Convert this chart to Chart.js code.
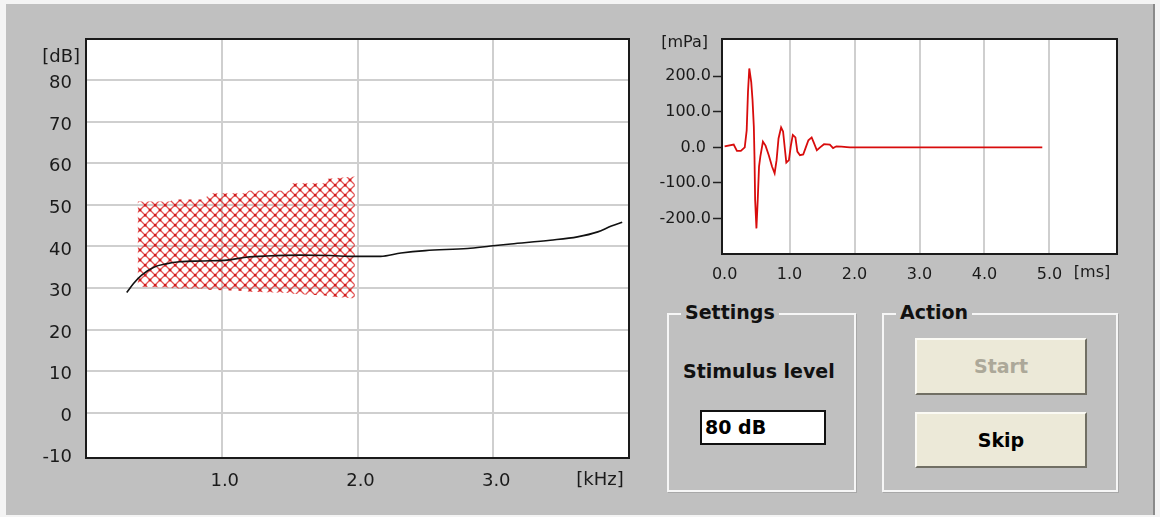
<!DOCTYPE html>
<html>
<head>
<meta charset="utf-8">
<script src="https://cdn.jsdelivr.net/npm/chart.js@4.4.1/dist/chart.umd.min.js"></script>
<style>
  html, body { margin: 0; padding: 0; background: #f4f4f4; width: 1160px; height: 517px; overflow: hidden; }
  #panel { position: absolute; left: 6px; top: 4px; width: 1147px; height: 511px; background: #c0c0c0; border-right: 2px solid #8a8a8a; }
  canvas { position: absolute; top: 0; }
  #cResp { left: 0; }
  #cWave { left: 650px; }
  .grp { position: absolute; top: 313px; height: 175px; border: 2px solid #f6f6f6; box-shadow: 1px 1px 0 #a8a8a8; }
  .grp-title { position: absolute; top: -15px; left: 12px; padding: 0 4px; background: #c0c0c0; font: bold 19px "DejaVu Sans", sans-serif; color: #111; line-height: 24px; }
  #gSet { left: 667px; width: 185px; }
  #gAct { left: 882px; width: 232px; }
  #lblLevel { position: absolute; left: 683px; top: 360px; font: bold 19px "DejaVu Sans", sans-serif; color: #111; }
  #inLevel { position: absolute; left: 700px; top: 410px; width: 119px; height: 31px; background: #fff; border: 2px solid #111; font: bold 19px "DejaVu Sans", sans-serif; line-height: 31px; padding-left: 3px; box-sizing: content-box; }
  .btn { position: absolute; left: 915px; width: 168px; background: #ece9d8; border-top: 2px solid #fbfaf4; border-left: 2px solid #fbfaf4; border-right: 2px solid #716f64; border-bottom: 2px solid #716f64; font: bold 19px "DejaVu Sans", sans-serif; text-align: center; }
  #bStart { top: 338px; height: 53px; line-height: 53px; color: #aca899; }
  #bSkip { top: 412px; height: 52px; line-height: 52px; color: #000; }
</style>
</head>
<body>
<div id="panel"></div>
<canvas id="cResp" width="650" height="517"></canvas>
<canvas id="cWave" width="510" height="300"></canvas>
<div class="grp" id="gSet"><span class="grp-title">Settings</span></div>
<div class="grp" id="gAct"><span class="grp-title">Action</span></div>
<div id="lblLevel">Stimulus level</div>
<div id="inLevel">80 dB</div>
<div class="btn" id="bStart">Start</div>
<div class="btn" id="bSkip">Skip</div>
<script>
// ── Datos: respuesta en frecuencia ────────────────────────────────
const freqTicks = [1, 2, 3];
const dbTicks   = [80, 70, 60, 50, 40, 30, 20, 10, 0, -10];

const curveFreq = [0.30, 0.35, 0.41, 0.50, 0.59, 0.69, 0.86, 1.04, 1.18, 1.33, 1.58, 1.80, 1.97,
                   2.17, 2.32, 2.50, 2.81, 2.98, 3.13, 3.42, 3.62, 3.77, 3.87, 3.95];
const curveDb   = [28.9, 31.1, 33.1, 35.0, 35.8, 36.3, 36.5, 36.7, 37.4, 37.7, 37.9, 37.8, 37.6,
                   37.6, 38.4, 39.0, 39.5, 40.1, 40.6, 41.5, 42.3, 43.5, 44.9, 45.8];

const bandFreq   = [0.38, 0.62, 0.64, 0.88, 0.90, 1.18, 1.20, 1.50, 1.52, 1.76, 1.78, 1.98];
const bandTop    = [50.8, 50.8, 51.3, 51.3, 52.8, 52.8, 53.4, 53.4, 55.2, 55.2, 56.3, 56.8];
const bandBottom = [30.3, 30.1, 29.9, 29.8, 29.6, 29.3, 29.1, 28.8, 28.6, 28.2, 28.0, 27.5];

// ── Datos: forma de onda del estimulo ─────────────────────────────
const timeTicks = [0, 1, 2, 3, 4, 5];
const mpaTicks  = [200, 100, 0, -100, -200];

const waveT = [0, 0.14, 0.19, 0.25, 0.31, 0.34, 0.36, 0.38, 0.41, 0.43, 0.45, 0.46, 0.47, 0.49, 0.51,
               0.53, 0.55, 0.59, 0.63, 0.68, 0.73, 0.77, 0.80, 0.83, 0.87, 0.90, 0.93, 0.95, 0.99, 1.02,
               1.05, 1.09, 1.12, 1.16, 1.21, 1.25, 1.29, 1.34, 1.37, 1.42, 1.47, 1.53, 1.62, 1.67, 1.72,
               1.80, 1.88, 1.93, 4.89];
const waveV = [3, 8, -10, -10, 0, 48, 156, 222, 184, 133, 58, -26, -148, -228, -148,
               -54, -26, 16, 5, -22, -54, -73, -36, 25, 56, 45, -8, -43, -36, 5,
               35, 28, -12, -22, -20, 0, 20, 28, 15, -8, 0, 9, 8, -2, 3,
               2, 1, 0, 0];

const pts = (xs, ys) => xs.map((x, i) => ({ x, y: ys[i] }));

// ── Plugin: fondo blanco, marco y unidades ────────────────────────
const plotFrame = {
  id: 'plotFrame',
  beforeDraw(chart) {
    const a = chart.chartArea, g = chart.ctx;
    g.save();
    g.fillStyle = '#fff';
    g.fillRect(a.left, a.top, a.right - a.left, a.bottom - a.top);
    g.restore();
  },
  afterDraw(chart, args, opts) {
    const a = chart.chartArea, g = chart.ctx;
    g.save();
    g.strokeStyle = '#1a1a1a';
    g.lineWidth = 2;
    g.strokeRect(a.left, a.top, a.right - a.left, a.bottom - a.top);
    g.fillStyle = '#1a1a1a';
    g.font = opts.font;
    g.textBaseline = 'middle';
    (opts.units || []).forEach(u => {
      g.textAlign = u.align;
      const x = u.edge === 'left' ? a.left + u.dx : a.right + u.dx;
      const y = u.side === 'top' ? a.top + u.dy : a.bottom + u.dy;
      g.fillText(u.text, x, y);
    });
    g.restore();
  },
};

// ── Trama cruzada roja ────────────────────────────────────────────
function makeHatch() {
  const c = document.createElement('canvas');
  c.width = 10; c.height = 10;
  const g = c.getContext('2d');
  g.strokeStyle = 'rgba(224,56,56,0.85)';
  g.lineWidth = 1.3;
  g.beginPath();
  g.moveTo(-1, -1); g.lineTo(11, 11);
  g.moveTo(11, -1); g.lineTo(-1, 11);
  g.stroke();
  g.fillStyle = '#cf1c1c';
  g.fillRect(4, 4, 2.5, 2.5);
  g.fillRect(0, 0, 1.3, 1.3); g.fillRect(8.7, 0, 1.3, 1.3); g.fillRect(0, 8.7, 1.3, 1.3); g.fillRect(8.7, 8.7, 1.3, 1.3);
  return g.createPattern(c, 'repeat');
}

const tickColor = '#1a1a1a';
const gridColor = '#cfcfcf';

// ── Grafico izquierdo: nivel vs frecuencia ────────────────────────
new Chart(document.getElementById('cResp'), {
  type: 'line',
  data: {
    datasets: [
      { data: pts(curveFreq, curveDb), borderColor: '#111', borderWidth: 1.6, pointRadius: 0,
        cubicInterpolationMode: 'monotone', fill: false },
      { data: pts(bandFreq, bandTop), borderWidth: 0, borderColor: 'rgba(0,0,0,0)', pointRadius: 0,
        backgroundColor: makeHatch(), fill: '+1' },
      { data: pts(bandFreq, bandBottom), borderWidth: 0, borderColor: 'rgba(0,0,0,0)', pointRadius: 0, fill: false },
    ],
  },
  options: {
    responsive: false, animation: false, events: [],
    layout: { padding: { left: 0, top: 39, right: 21, bottom: 0 } },
    plugins: {
      legend: { display: false }, tooltip: { enabled: false },
      plotFrame: {
        font: '18px "DejaVu Sans"',
        units: [
          { text: '[dB]',  edge: 'left',  side: 'top',    dx: -6,  dy: 18, align: 'right' },
          { text: '[kHz]', edge: 'right', side: 'bottom', dx: -29, dy: 22, align: 'center' },
        ],
      },
    },
    scales: {
      x: {
        type: 'linear', min: 0, max: 4.0,
        afterBuildTicks: s => { s.ticks = freqTicks.map(v => ({ value: v })); },
        afterFit: s => { s.height = 59; },
        border: { display: false },
        grid: { color: gridColor, lineWidth: 2, drawTicks: false },
        ticks: { color: tickColor, font: { family: 'DejaVu Sans', size: 18 }, padding: 13, labelOffset: 3,
                 maxRotation: 0, callback: v => v.toFixed(1) },
      },
      y: {
        type: 'linear', min: -10.9, max: 89.9,
        afterBuildTicks: s => { s.ticks = dbTicks.map(v => ({ value: v })); },
        afterFit: s => { s.width = 86; },
        border: { display: false },
        grid: { color: c => (c.tick && c.tick.value === -10 ? 'rgba(0,0,0,0)' : gridColor), lineWidth: 2, drawTicks: false },
        ticks: { color: tickColor, font: { family: 'DejaVu Sans', size: 18 }, padding: 14, labelOffset: 3.5,
                 callback: v => String(v) },
      },
    },
  },
  plugins: [plotFrame],
});

// ── Grafico derecho: presion vs tiempo ────────────────────────────
new Chart(document.getElementById('cWave'), {
  type: 'line',
  data: {
    datasets: [
      { data: pts(waveT, waveV), borderColor: '#d80c0c', borderWidth: 1.8, pointRadius: 0, tension: 0, fill: false },
    ],
  },
  options: {
    responsive: false, animation: false, events: [],
    layout: { padding: { left: 0, top: 39, right: 43, bottom: 0 } },
    plugins: {
      legend: { display: false }, tooltip: { enabled: false },
      plotFrame: {
        font: '16px "DejaVu Sans"',
        units: [
          { text: '[mPa]', edge: 'left',  side: 'top',    dx: -14, dy: 4,  align: 'right' },
          { text: '[ms]',  edge: 'right', side: 'bottom', dx: -25, dy: 19, align: 'center' },
        ],
      },
    },
    scales: {
      x: {
        type: 'linear', min: -0.04, max: 6.04,
        afterBuildTicks: s => { s.ticks = timeTicks.map(v => ({ value: v })); },
        afterFit: s => { s.height = 46; },
        border: { display: false },
        grid: { color: c => (c.tick && c.tick.value === 0 ? 'rgba(0,0,0,0)' : gridColor), lineWidth: 2, drawTicks: false },
        ticks: { color: tickColor, font: { family: 'DejaVu Sans', size: 16 }, padding: 11,
                 maxRotation: 0, callback: v => v.toFixed(1) },
      },
      y: {
        type: 'linear', min: -300, max: 305,
        afterBuildTicks: s => { s.ticks = mpaTicks.map(v => ({ value: v })); },
        afterFit: s => { s.width = 72; },
        border: { display: false },
        grid: { drawOnChartArea: false, drawTicks: true, tickLength: 9, tickColor: '#222', tickWidth: 1.5 },
        ticks: { color: tickColor, font: { family: 'DejaVu Sans', size: 16 }, padding: 2,
                 callback: v => (v === 0 ? '0.0 ' : v.toFixed(1)) },
      },
    },
  },
  plugins: [plotFrame],
});
</script>
</body>
</html>
